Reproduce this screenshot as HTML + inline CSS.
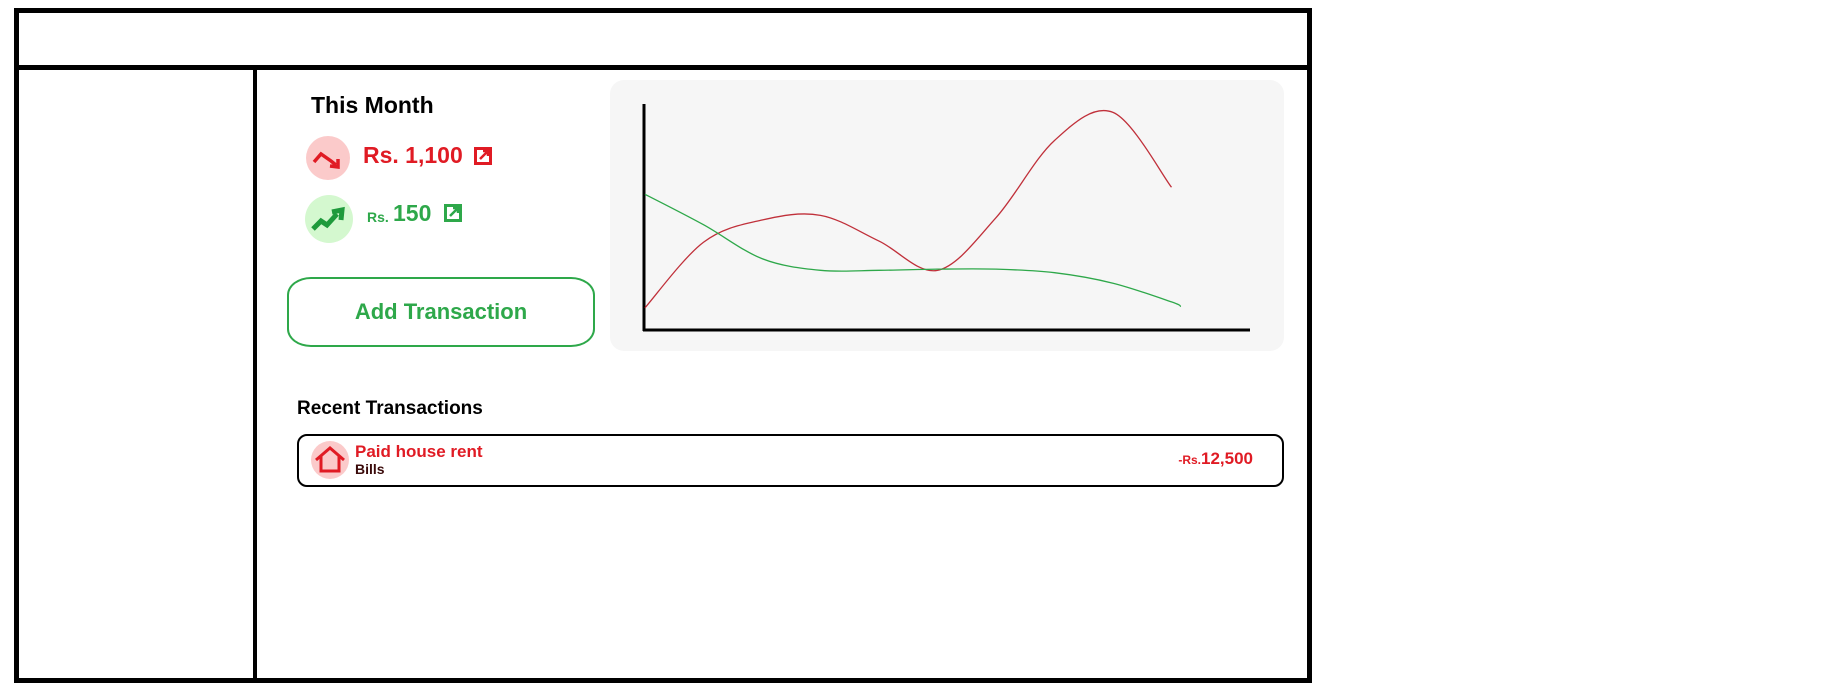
<!DOCTYPE html>
<html><head><meta charset="utf-8"><style>
body{margin:0;width:1834px;height:691px;background:#fff;position:relative;overflow:hidden;font-family:"Liberation Sans",sans-serif}
.a{position:absolute}
.b{font-weight:bold}
</style></head><body>
<div class="a" style="left:14px;top:8px;width:1288px;height:665px;border:5px solid #000"></div>
<div class="a" style="left:14px;top:65px;width:1296px;height:5px;background:#000"></div>
<div class="a" style="left:253px;top:65px;width:4px;height:614px;background:#000"></div>

<div class="a b" style="left:311px;top:92px;font-size:23px;color:#000">This Month</div>

<svg class="a" style="left:305px;top:135px" width="46" height="46" viewBox="0 0 46 46"><circle cx="23" cy="23" r="22" fill="#fbcaca"/><path d="M9 27 L16 19 L26 26 L31 30" stroke="#e01b24" stroke-width="3.5" fill="none"/><path d="M25 31 L33 32 L33 24" stroke="#e01b24" stroke-width="3.5" fill="none"/></svg>
<div class="a b" style="left:363px;top:142px;font-size:23px;color:#e01b24">Rs. 1,100</div>
<svg class="a" style="left:474px;top:147px" width="18" height="18"><rect x="1.5" y="1.5" width="15" height="15" fill="none" stroke="#e01b24" stroke-width="3"/><path d="M6 12 L13 5 M9 4 H14 V9" stroke="#e01b24" stroke-width="2.5" fill="none"/></svg>

<svg class="a" style="left:305px;top:195px" width="48" height="48" viewBox="0 0 48 48"><circle cx="24" cy="24" r="24" fill="#d4f8cf"/><path d="M8 34 L16 26 L22 30 L32 19" stroke="#1f9a3c" stroke-width="5" fill="none"/><path d="M27 17 L37 15 L36 25" stroke="#1f9a3c" stroke-width="5" fill="none"/></svg>
<div class="a b" style="left:367px;top:209px;font-size:14px;color:#2ea84a">Rs.</div>
<div class="a b" style="left:393px;top:200px;font-size:23px;color:#2ea84a">150</div>
<svg class="a" style="left:444px;top:204px" width="18" height="18"><rect x="1.5" y="1.5" width="15" height="15" fill="none" stroke="#2ea84a" stroke-width="3"/><path d="M6 12 L13 5 M9 4 H14 V9" stroke="#2ea84a" stroke-width="2.5" fill="none"/></svg>

<div class="a b" style="left:287px;top:277px;width:304px;height:66px;border:2px solid #2ea84a;border-radius:24px/18px;color:#2ea84a;font-size:22px;display:flex;align-items:center;justify-content:center">Add Transaction</div>

<div class="a" style="left:610px;top:80px;width:674px;height:271px;background:#f6f6f6;border-radius:14px"></div>
<svg class="a" id="chart" style="left:0;top:0" width="1834" height="691"></svg>

<div class="a b" style="left:297px;top:398px;font-size:19px;color:#000">Recent Transactions</div>
<div class="a" style="left:297px;top:434px;width:983px;height:49px;border:2px solid #000;border-radius:10px"></div>
<svg class="a" style="left:310px;top:440px" width="40" height="40"><circle cx="20" cy="20" r="19" fill="#fbcaca"/><path d="M6 20 L20 8 L34 20 M11 16 V31 H29 V16" stroke="#e01b24" stroke-width="3" fill="none"/></svg>
<div class="a b" style="left:355px;top:442px;font-size:17px;color:#e01b24">Paid house rent</div>
<div class="a b" style="left:355px;top:461px;font-size:14px;color:#3a0a0a">Bills</div>
<div class="a b" style="right:581px;top:449px;font-size:17px;color:#e01b24"><span style="font-size:12px">-Rs.</span>12,500</div>

<script>
const days=[0,1,2,3,4,5,6,7,8,9];
const expense=[19,75,94,98,76,51,96,162,186,122];
const incomeDays=[0,1,2,3,4,5,6,7,8,9,9.16];
const income=[116,90,61,51,51,52,52,49,40,24,20];
const svg=document.getElementById('chart');
const NS='http://www.w3.org/2000/svg';
const xS=d=>645+58.5*d;
const yS=v=>330-1.17*v;
function mk(t,a){const e=document.createElementNS(NS,t);for(const k in a)e.setAttribute(k,a[k]);svg.appendChild(e);return e;}
function path(xs,ys){const p=xs.map((x,i)=>[xS(x),yS(ys[i])]);let d='M'+p[0][0]+' '+p[0][1];
for(let i=0;i<p.length-1;i++){const p0=p[Math.max(0,i-1)],p1=p[i],p2=p[i+1],p3=p[Math.min(p.length-1,i+2)];
d+=` C${p1[0]+(p2[0]-p0[0])/6} ${p1[1]+(p2[1]-p0[1])/6} ${p2[0]-(p3[0]-p1[0])/6} ${p2[1]-(p3[1]-p1[1])/6} ${p2[0]} ${p2[1]}`;}return d;}
const ya=mk('line',{x1:644,y1:104,x2:644,y2:331,stroke:'#000','stroke-width':3});


const xa=mk('line',{x1:643,y1:330,x2:1250,y2:330,stroke:'#000','stroke-width':3});


const r=mk('path',{d:path(days,expense),stroke:'#c0303a','stroke-width':1.3,fill:'none'});


const g=mk('path',{d:path(incomeDays,income),stroke:'#2ea84a','stroke-width':1.3,fill:'none'});


</script>
</body></html>
